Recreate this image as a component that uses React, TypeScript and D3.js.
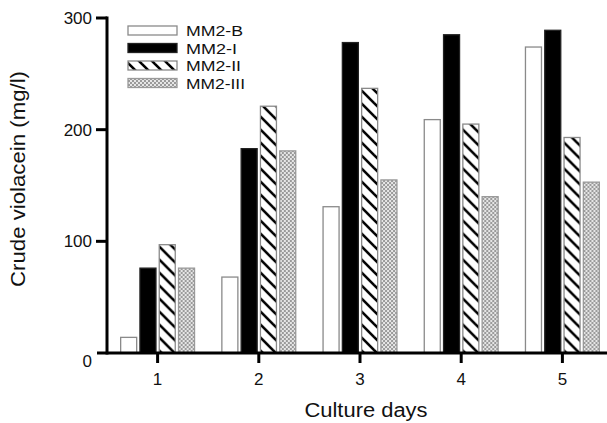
import React from "react";
import * as d3 from "d3";

const days = ["1", "2", "3", "4", "5"];
const seriesNames = ["MM2-B", "MM2-I", "MM2-II", "MM2-III"];
const valuesB = [14, 68, 131, 209, 274];
const valuesI = [76, 183, 278, 285, 289];
const valuesII = [97, 221, 237, 205, 193];
const valuesIII = [76, 181, 155, 140, 153];
const yTicks = [0, 100, 200, 300];

const allSeries = [valuesB, valuesI, valuesII, valuesIII];

const W = 607;
const H = 423;
const FONT = "Liberation Sans, Arial, Helvetica, sans-serif";

const fills = ["#ffffff", "#000000", "url(#hatch)", "url(#dots)"];
const strokes = ["#8a8a8a", "#222222", "#8a8a8a", "#9a9a9a"];

export default function App() {
  const axisX = 107;
  const axisY = 353;
  const y = d3.scaleLinear().domain([0, 300]).range([353, 18]);
  const x0 = d3
    .scaleBand<string>()
    .domain(days)
    .range([107, 613])
    .paddingInner(0.27)
    .paddingOuter(0.135);
  const x1 = d3
    .scaleBand<string>()
    .domain(seriesNames)
    .range([0, x0.bandwidth()])
    .paddingInner(0.17);

  const legendRows = [30.5, 48, 65.5, 83];
  const legendWidths = [57, 51, 55, 59];

  return (
    <svg
      width={W}
      height={H}
      style={{ position: "absolute", left: 0, top: 0, background: "#fff" }}
      fontFamily={FONT}
    >
      <defs>
        <pattern id="hatch" patternUnits="userSpaceOnUse" width="13" height="13">
          <rect width="13" height="13" fill="#fff" />
          <line x1="-3" y1="-3" x2="16" y2="16" stroke="#000" strokeWidth="2.6" />
          <line x1="-3" y1="10" x2="3" y2="16" stroke="#000" strokeWidth="2.6" />
          <line x1="10" y1="-3" x2="16" y2="3" stroke="#000" strokeWidth="2.6" />
        </pattern>
        <pattern id="dots" patternUnits="userSpaceOnUse" width="4" height="4">
          <rect width="4" height="4" fill="#e6e6e6" />
          <circle cx="1" cy="1" r="0.95" fill="#7a7a7a" />
          <circle cx="3" cy="3" r="0.95" fill="#7a7a7a" />
        </pattern>
      </defs>

      {/* bars */}
      {days.map((d, di) => (
        <g key={d} transform={`translate(${x0(d)},0)`}>
          {seriesNames.map((s, si) => {
            const v = allSeries[si][di];
            return (
              <rect
                key={s}
                x={x1(s)}
                y={y(v)}
                width={x1.bandwidth()}
                height={y(0) - y(v)}
                fill={fills[si]}
                stroke={strokes[si]}
                strokeWidth={1.3}
              />
            );
          })}
        </g>
      ))}

      {/* y axis */}
      <line x1={axisX} y1={y(300) - 1.5} x2={axisX} y2={axisY + 1.5} stroke="#000" strokeWidth={3} />
      {yTicks.map((t) => (
        <g key={t}>
          {t > 0 && (
            <line x1={96} y1={y(t)} x2={axisX} y2={y(t)} stroke="#000" strokeWidth={3} />
          )}
          <text
            x={92}
            y={t === 0 ? 367 : y(t) + 6}
            textAnchor="end"
            fontSize={17}
            fill="#111"
          >
            {t}
          </text>
        </g>
      ))}

      {/* x axis */}
      <line x1={97} y1={axisY} x2={W} y2={axisY} stroke="#000" strokeWidth={3} />
      {days.map((d) => {
        const cx = (x0(d) as number) + x0.bandwidth() / 2;
        return (
          <g key={d}>
            <line x1={cx} y1={axisY} x2={cx} y2={363} stroke="#000" strokeWidth={3} />
            <text x={cx} y={385} textAnchor="middle" fontSize={17} fill="#111">
              {d}
            </text>
          </g>
        );
      })}

      {/* axis titles */}
      <text
        x={366}
        y={417}
        textAnchor="middle"
        fontSize={20}
        textLength={123}
        lengthAdjust="spacingAndGlyphs"
        fill="#111"
      >
        Culture days
      </text>
      <text
        transform={`translate(25,179) rotate(-90)`}
        textAnchor="middle"
        fontSize={20}
        textLength={216}
        lengthAdjust="spacingAndGlyphs"
        fill="#111"
      >
        Crude violacein (mg/l)
      </text>

      {/* legend */}
      {seriesNames.map((s, i) => (
        <g key={s}>
          <rect
            x={128}
            y={legendRows[i] - 4.5}
            width={49}
            height={9}
            fill={fills[i]}
            stroke={strokes[i]}
            strokeWidth={1.3}
          />
          <text
            x={186}
            y={legendRows[i] + 5.5}
            fontSize={15}
            textLength={legendWidths[i]}
            lengthAdjust="spacingAndGlyphs"
            fill="#111"
          >
            {s}
          </text>
        </g>
      ))}
    </svg>
  );
}
